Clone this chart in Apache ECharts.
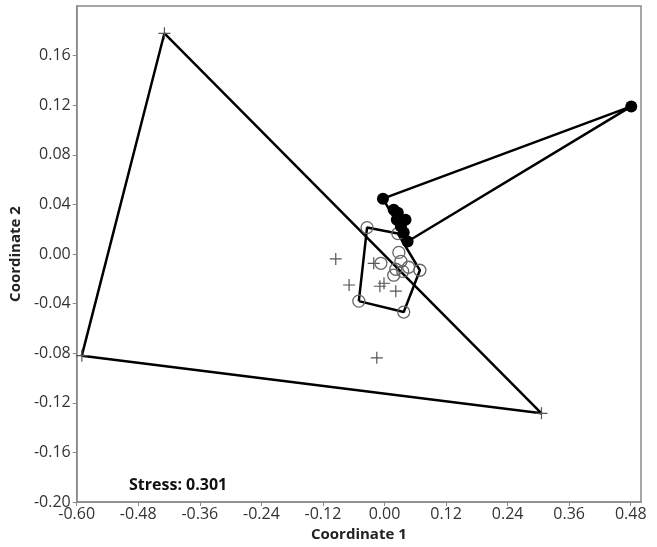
<!DOCTYPE html>
<html>
<head>
<meta charset="utf-8">
<script src="https://cdn.jsdelivr.net/npm/echarts@6/dist/echarts.min.js"></script>
<style>html,body{margin:0;padding:0;background:#fff;}#c{width:657px;height:547px;}</style>
</head>
<body>
<div id="c"></div>
<script>
// Group 1: crosses
var crossX = [-0.429, -0.590, 0.306, -0.095, -0.069, -0.021, -0.009, -0.001, 0.022, -0.015];
var crossY = [0.178, -0.082, -0.1285, -0.004, -0.025, -0.0075, -0.026, -0.0236, -0.030, -0.0837];
// Group 2: open circles
var openX = [-0.034, 0.026, 0.069, 0.0375, -0.050, 0.028, 0.032, -0.007, 0.022, 0.047, 0.018, 0.0355];
var openY = [0.0213, 0.0165, -0.0131, -0.0468, -0.038, 0.0013, -0.0059, -0.0075, -0.0123, -0.0107, -0.0171, -0.014];
// Group 3: filled circles
var fillX = [-0.003, 0.481, 0.045, 0.018, 0.026, 0.024, 0.034, 0.041, 0.032, 0.0375];
var fillY = [0.0446, 0.119, 0.0101, 0.0357, 0.0333, 0.0277, 0.0269, 0.0277, 0.0221, 0.0173];
var stressText = 'Stress: 0.301';
var xTitle = 'Coordinate 1';
var yTitle = 'Coordinate 2';

function pts(xs, ys) { return xs.map(function (x, i) { return [x, ys[i]]; }); }
function hull(p) {
  var a = p.slice().sort(function (u, v) { return u[0] - v[0] || u[1] - v[1]; });
  function cr(o, u, v) { return (u[0] - o[0]) * (v[1] - o[1]) - (u[1] - o[1]) * (v[0] - o[0]); }
  var lo = [], up = [];
  a.forEach(function (q) { while (lo.length >= 2 && cr(lo[lo.length - 2], lo[lo.length - 1], q) <= 0) lo.pop(); lo.push(q); });
  a.slice().reverse().forEach(function (q) { while (up.length >= 2 && cr(up[up.length - 2], up[up.length - 1], q) <= 0) up.pop(); up.push(q); });
  var h = lo.slice(0, -1).concat(up.slice(0, -1));
  h.push(h[0]);
  return h;
}
var g1 = pts(crossX, crossY), g2 = pts(openX, openY), g3 = pts(fillX, fillY);
var fmt = function (v) { if (Math.abs(v) < 1e-9) v = 0; return v.toFixed(2); };
var crossPath = 'path://M5.4,0 h1.2 v5.4 h5.4 v1.2 h-5.4 v5.4 h-1.2 v-5.4 h-5.4 v-1.2 h5.4 z';
function hullSeries(d) {
  return { type: 'line', data: hull(d), symbol: 'none', silent: true, z: 1,
    lineStyle: { color: '#000', width: 2.5 } };
}
var axisCommon = {
  axisLine: { show: true, onZero: false, lineStyle: { color: '#8a8a8a', width: 1.5 } },
  axisTick: { show: true, inside: false, length: 4, lineStyle: { color: '#8a8a8a' } },
  splitLine: { show: false }
};
var chart = echarts.init(document.getElementById('c'), null, { renderer: 'canvas' });
chart.setOption({
  animation: false,
  backgroundColor: '#fff',
  grid: { left: 75, right: 16, top: 6, bottom: 42, show: true, borderColor: '#8a8a8a', borderWidth: 1.5 },
  xAxis: Object.assign({
    type: 'value', min: -0.6, max: 0.5, interval: 0.12,
    name: xTitle, nameLocation: 'middle', nameGap: 25,
    nameTextStyle: { fontFamily: 'Open Sans', fontWeight: 'bold', fontSize: 15, color: '#222' },
    axisLabel: { formatter: fmt, showMaxLabel: false, margin: 4, fontFamily: 'Open Sans', fontSize: 16, color: '#333' }
  }, axisCommon),
  yAxis: Object.assign({
    type: 'value', min: -0.2, max: 0.2, interval: 0.04,
    name: yTitle, nameLocation: 'middle', nameGap: 52, nameRotate: 90,
    nameTextStyle: { fontFamily: 'Open Sans', fontWeight: 'bold', fontSize: 15, color: '#222' },
    axisLabel: { formatter: fmt, showMaxLabel: false, margin: 6, fontFamily: 'Open Sans', fontSize: 16, color: '#333' }
  }, axisCommon),
  graphic: [{ type: 'text', left: 129, top: 477, style: { text: stressText, fontFamily: 'Open Sans', fontWeight: 'bold', fontSize: 16, fill: '#111' } }],
  series: [
    hullSeries(g1), hullSeries(g2), hullSeries(g3),
    { type: 'scatter', data: g1, symbol: crossPath, symbolSize: 12, z: 3, itemStyle: { color: '#555', opacity: 1 } },
    { type: 'scatter', data: g2, symbol: 'circle', symbolSize: 12, z: 3, itemStyle: { color: 'rgba(255,255,255,0)', borderColor: '#666', borderWidth: 1.3, opacity: 1 } },
    { type: 'scatter', data: g3, symbol: 'circle', symbolSize: 12, z: 4, itemStyle: { color: '#000', opacity: 1 } }
  ]
});
</script>
</body>
</html>
